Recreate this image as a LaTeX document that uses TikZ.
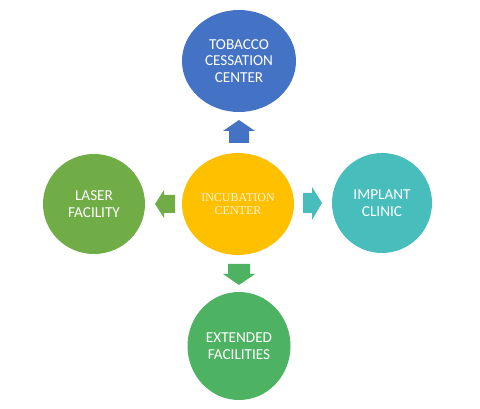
\documentclass[tikz,border=0pt]{standalone}
\usepackage{fontspec}
\setmainfont{Carlito}
\newfontfamily\serifface{Liberation Serif}
\usetikzlibrary{shapes.geometric}
\definecolor{cblue}{HTML}{4472C4}
\definecolor{cgold}{HTML}{FFC000}
\definecolor{cgreen}{HTML}{70AD47}
\definecolor{cteal}{HTML}{47BEBC}
\definecolor{cgreenb}{HTML}{4DB363}
\definecolor{ctext}{HTML}{FFF4D6}
\tikzset{
  bubble/.style={ellipse, inner sep=0pt, text=white, align=center,
    font=\fontsize{15.2}{16.5}\selectfont},
}
\begin{document}
\begin{tikzpicture}[x=1pt,y=-1pt]
\useasboundingbox (0,0) rectangle (480,409);
\fill[white] (0,0) rectangle (480,409);
% circles
\node[bubble, fill=cblue, minimum width=114pt, minimum height=102pt] (top) at (239,61) {TOBACCO\\CESSATION\\CENTER};
\node[bubble, fill=cgold, minimum width=112pt, minimum height=102pt, text=ctext,
  font=\serifface\fontsize{12}{13.5}\selectfont] (mid) at (238,204) {INCUBATION\\CENTER};
\node[bubble, fill=cgreen, minimum width=102pt, minimum height=100pt] (left) at (94,204) {LASER\\FACILITY};
\node[bubble, fill=cteal, minimum width=100pt, minimum height=100pt] (right) at (382,203) {IMPLANT\\CLINIC};
\node[bubble, fill=cgreenb, minimum width=103pt, minimum height=108pt] (bot) at (239,346) {EXTENDED\\FACILITIES};
% block arrows
\fill[cblue] (229,143) -- (229,131) -- (223,131) -- (239,120) -- (255,131) -- (249,131) -- (249,143) -- cycle;
\fill[cgreenb] (228,264) -- (250,264) -- (250,274) -- (255,274) -- (239,285) -- (223,274) -- (228,274) -- cycle;
\fill[cgreen] (175,195) -- (164,195) -- (164,190) -- (155,204) -- (164,218) -- (164,213) -- (175,213) -- cycle;
\fill[cteal] (303,193) -- (312,193) -- (312,187) -- (322,203) -- (312,220) -- (312,213) -- (303,213) -- cycle;
\end{tikzpicture}
\end{document}
